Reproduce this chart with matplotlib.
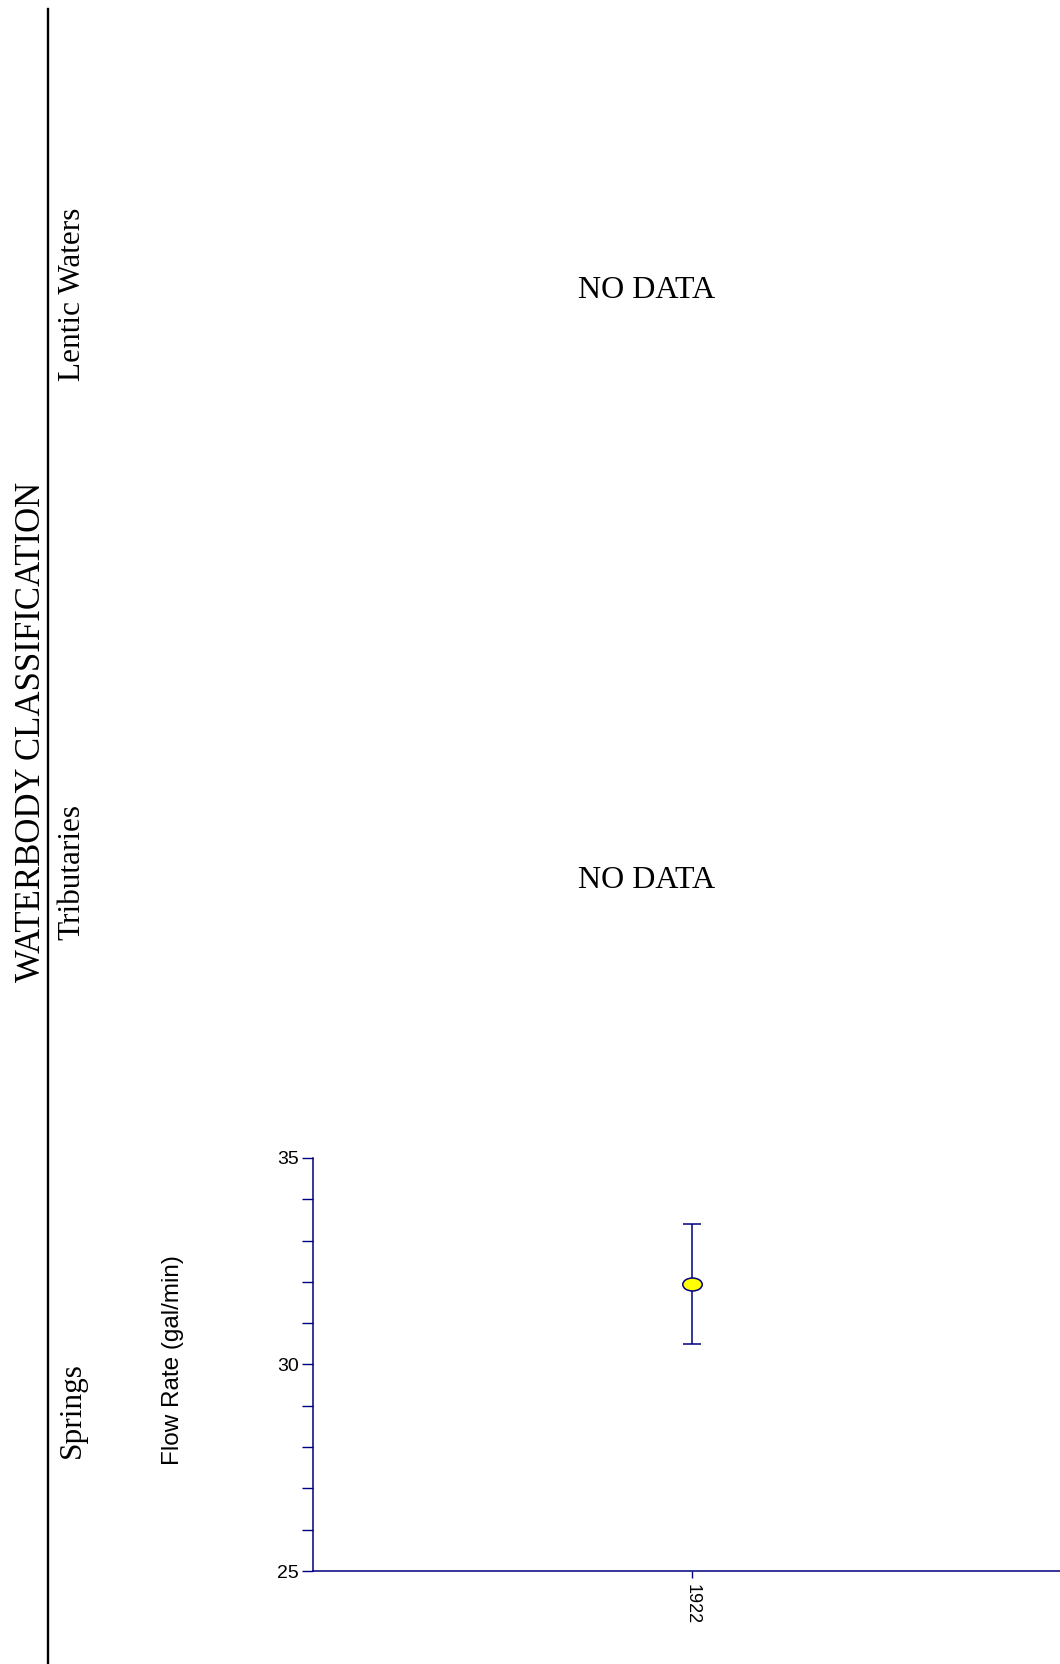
import numpy as np
import matplotlib.pyplot as plt
from matplotlib.lines import Line2D
from matplotlib.markers import MarkerStyle
from matplotlib.path import Path
from matplotlib.transforms import Affine2D
from matplotlib.ticker import MultipleLocator

# data
classes = ['Lentic Waters', 'Tributaries', 'Springs']
no_data = [True, True, False]
years = [1922]
flow_mean = [31.95]
flow_err = [1.45]

W, H = 1060, 1664
navy = '#000080'
serif = 'Liberation Serif'
sans = 'Liberation Sans'

fig = plt.figure(figsize=(W / 100, H / 100), dpi=100)

def fx(px):
    return px / W

def fy(py):
    return 1 - py / H

# left bracket line
fig.add_artist(Line2D([fx(48), fx(48)], [0, fy(9)], transform=fig.transFigure,
                      color='black', lw=1.7))

fig.text(fx(32), fy(732), 'WATERBODY CLASSIFICATION', rotation=90, ha='center',
         va='center', fontsize=25, family=serif)

label_y = [294, 872, 1410]
nodata_y = [290, 880, None]
for name, nd, yc, ny in zip(classes, no_data, label_y, nodata_y):
    fig.text(fx(72), fy(yc), name, rotation=90, ha='center', va='center',
             fontsize=22.5, family=serif)
    if nd:
        fig.text(fx(647), fy(ny), 'NO DATA', ha='center', va='center',
                 fontsize=23, family=serif)

# springs plot
ax = fig.add_axes([fx(313), 1 - 1571 / H, (1071 - 313) / W, (1571 - 1158) / H])
ellipse = Path.unit_circle().transformed(Affine2D().scale(1.5, 1.0))
ax.errorbar(years, flow_mean, yerr=flow_err, fmt='none', ecolor=navy,
            elinewidth=1.1, capsize=6.5, capthick=1.1, zorder=2)
ax.plot(years, flow_mean, linestyle='none', marker=MarkerStyle(ellipse),
        markersize=14, markerfacecolor='yellow', markeredgecolor=navy,
        markeredgewidth=1.1, zorder=3)

ax.set_xlim(1921, 1923)
ax.set_ylim(25, 35)
ax.set_xticks(years)
ax.set_xticklabels([str(y) for y in years], rotation=270, fontsize=13, family=sans)
ax.yaxis.set_major_locator(MultipleLocator(5))
ax.yaxis.set_minor_locator(MultipleLocator(1))
for lab in ax.get_yticklabels():
    lab.set_family(sans)
ax.tick_params(axis='y', which='both', length=8, width=1, color=navy,
               labelsize=14, pad=2)
ax.tick_params(axis='x', length=5, width=1, color=navy, pad=4)
for s in ['top', 'right']:
    ax.spines[s].set_visible(False)
for s in ['left', 'bottom']:
    ax.spines[s].set_color(navy)
    ax.spines[s].set_linewidth(1.1)

fig.text(fx(173), fy(1360), 'Flow Rate (gal/min)', rotation=90, ha='center',
         va='center', fontsize=17.5, family=sans)

fig.savefig('out.png', dpi=100)
